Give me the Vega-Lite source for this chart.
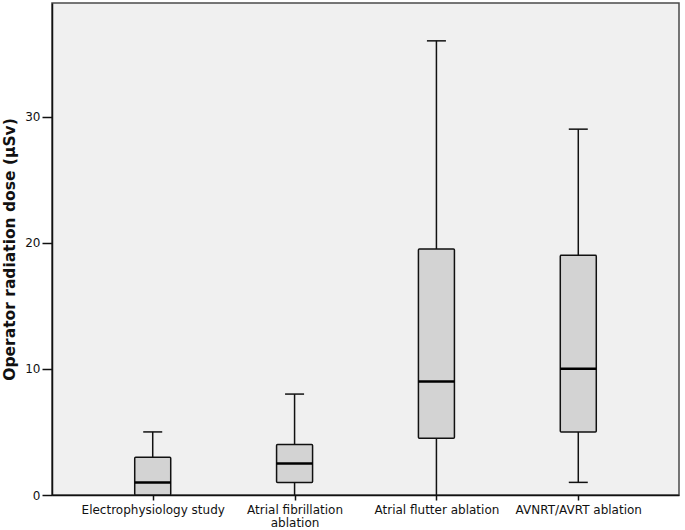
{
  "$schema": "https://vega.github.io/schema/vega-lite/v6.json",
  "autosize": "none",
  "width": 627,
  "height": 492,
  "padding": {"left": 52, "top": 3, "right": 6, "bottom": 35},
  "background": "white",
  "config": {
    "view": {"fill": "#f0f0f0", "stroke": "#4a4a4a", "strokeWidth": 1.5},
    "font": "DejaVu Sans",
    "axis": {"domainColor": "#111", "tickColor": "#111", "labelColor": "#111", "titleColor": "#111", "grid": false}
  },
  "data": {
    "values": [
      {"group": "Electrophysiology study", "min": 0, "q1": 0, "median": 1, "q3": 3, "max": 5},
      {"group": "Atrial fibrillation ablation", "min": 0, "q1": 1, "median": 2.5, "q3": 4, "max": 8},
      {"group": "Atrial flutter ablation", "min": 0, "q1": 4.5, "median": 9, "q3": 19.5, "max": 36},
      {"group": "AVNRT/AVRT ablation", "min": 1, "q1": 5, "median": 10, "q3": 19, "max": 29}
    ]
  },
  "encoding": {
    "x": {
      "field": "group", "type": "nominal", "sort": null,
      "scale": {"type": "point", "padding": 0.71},
      "axis": {
        "title": null, "labelAngle": 0, "labelFontSize": 12, "labelPadding": 4,
        "tickSize": 5, "domainWidth": 1.5, "tickWidth": 1.5,
        "labelExpr": "datum.label == 'Atrial fibrillation ablation' ? ['Atrial fibrillation', 'ablation'] : datum.label",
        "labelLineHeight": 13
      }
    }
  },
  "layer": [
    {
      "mark": {"type": "rule", "color": "#111", "strokeWidth": 1.5},
      "encoding": {
        "y": {
          "field": "min", "type": "quantitative",
          "scale": {"domain": [0, 39], "nice": false, "zero": true},
          "axis": {
            "title": "Operator radiation dose (µSv)", "titleFontSize": 15.5, "titleFontWeight": "bold",
            "titleX": -35, "titleY": 246, "titleBaseline": "bottom", "values": [0, 10, 20, 30], "labelFontSize": 12, "tickSize": 10,
            "labelPadding": 2, "domainWidth": 1.5, "tickWidth": 1.5
          }
        },
        "y2": {"field": "max"}
      }
    },
    {
      "mark": {"type": "bar", "size": 36, "fill": "#d3d3d3", "stroke": "#111", "strokeWidth": 1.5, "cornerRadius": 1},
      "encoding": {"y": {"field": "q1", "type": "quantitative"}, "y2": {"field": "q3"}}
    },
    {
      "mark": {"type": "tick", "size": 36, "thickness": 2.5, "color": "#000", "opacity": 1},
      "encoding": {"y": {"field": "median", "type": "quantitative"}}
    },
    {
      "mark": {"type": "tick", "size": 19, "thickness": 1.5, "color": "#111", "opacity": 1},
      "encoding": {"y": {"field": "max", "type": "quantitative"}}
    },
    {
      "transform": [{"filter": "datum.min > 0"}],
      "mark": {"type": "tick", "size": 19, "thickness": 1.5, "color": "#111", "opacity": 1},
      "encoding": {"y": {"field": "min", "type": "quantitative"}}
    }
  ]
}
